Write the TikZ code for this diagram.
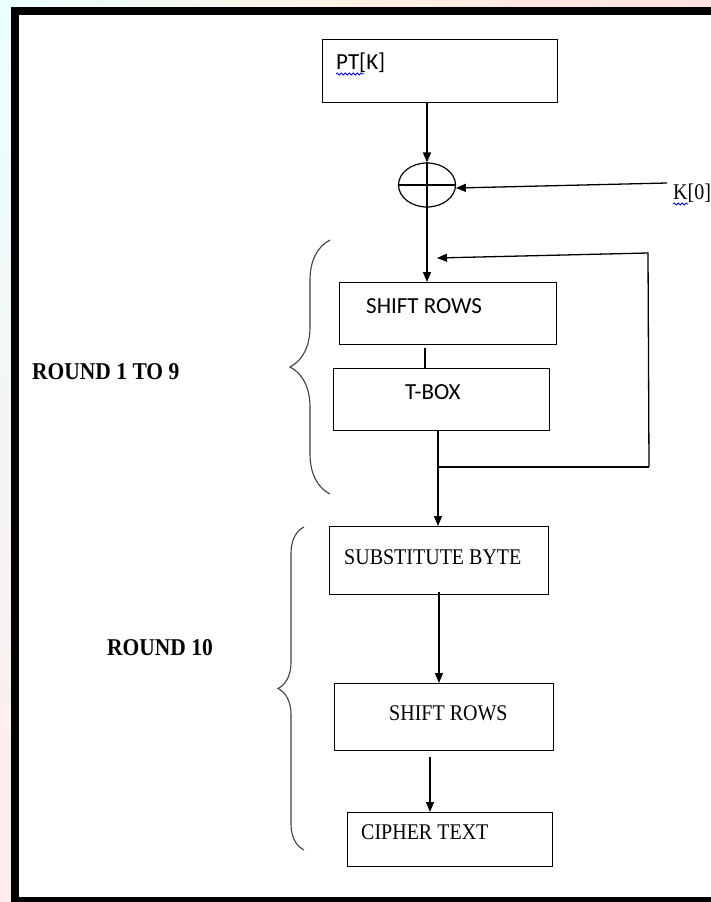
\documentclass[tikz,border=0pt]{standalone}
\usepackage{fontspec}
\setmainfont{Liberation Serif}
\newfontfamily\calib{Carlito}
\usetikzlibrary{arrows.meta,shapes.geometric,decorations.pathreplacing,decorations.pathmorphing,calc}
\newcommand{\tallsf}[1]{\scalebox{1}[1.12]{#1}}
\begin{document}
\begin{tikzpicture}[x=1pt,y=-1pt,
 box/.style={draw, line width=1.2pt, rectangle, inner sep=0pt, anchor=north west},
 arr/.style={line width=1.3pt, -{Triangle[length=10pt,width=8pt]}},
 ln/.style={line width=1.3pt},
 sanstext/.style={font=\calib\fontsize{23}{27}\selectfont, inner sep=0pt, anchor=west},
 seriftext/.style={font=\fontsize{20}{24}\selectfont, inner sep=0pt, anchor=west},
 roundlbl/.style={font=\bfseries\fontsize{21.5}{25}\selectfont, inner sep=0pt, anchor=west},
 brc/.style={decorate, draw=black!75, line width=1.1pt},
 spell/.style={draw=blue, line width=0.8pt, decorate, decoration={snake, segment length=4pt, amplitude=1pt}}
]
\useasboundingbox (0,0) rectangle (711,902);
% background and frame
\shade[top color=cyan!8, bottom color=red!8] (0,0) rectangle (711,902);
\shade[left color=cyan!8, right color=red!12, middle color=orange!10] (0,0) rectangle (711,16);
\fill[white] (19,15) rectangle (711,897);
\fill[black] (11,7) rectangle (19,902);
\fill[black] (11,7) rectangle (711,15);
\fill[black] (11,897) rectangle (711,902);

% boxes
\node[box, minimum width=235pt, minimum height=63pt] (pt) at (322,39) {};
\node[box, minimum width=217pt, minimum height=62pt] (sr1) at (339,282) {};
\node[box, minimum width=216pt, minimum height=62pt] (tbox) at (333,368) {};
\node[box, minimum width=219pt, minimum height=68pt] (sub) at (329,526) {};
\node[box, minimum width=219pt, minimum height=67pt] (sr2) at (334,683) {};
\node[box, minimum width=205pt, minimum height=54pt] (ct) at (347,812) {};

% texts
\node[sanstext] (ptt) at (336,63) {PT[K]};
\node[sanstext] (sr1t) at (366,306) {SHIFT ROWS};
\node[sanstext] (tboxt) at (405,392) {T-BOX};
\node[seriftext] (subt) at (344,557) {\tallsf{SUBSTITUTE BYTE}};
\node[seriftext] (sr2t) at (389,713) {\tallsf{SHIFT ROWS}};
\node[seriftext] (ctt) at (361,832) {\tallsf{CIPHER TEXT}};
\node[seriftext] (k) at (673,193) {\tallsf{K[0]}};
\node[roundlbl] (r19) at (32,372) {\tallsf{ROUND 1 TO 9}};
\node[roundlbl] (r10) at (107,648) {\tallsf{ROUND 10}};

% spelling marks
\draw[spell] (336,74) -- (364,74);
\draw[spell] (673,204) -- (688,204);

% xor
\node[draw, ellipse, line width=1.2pt, minimum width=57pt, minimum height=44pt, inner sep=0pt] (xor) at (427,185) {};
\draw[ln] (xor.north) -- (xor.south);
\draw[ln] (xor.west) -- (xor.east);

% connectors
\draw[arr] (pt.south -| xor.north) -- (xor.north);
\coordinate (kst) at (667,183);
\draw[arr] (kst) -- (xor.-6);
\draw[arr] (xor.south) -- (xor.south |- sr1.north);

\coordinate (c1) at (425,0);
\draw[ln] ($(sr1.south -| c1)+(0,3)$) -- (tbox.north -| c1);

\coordinate (cx2) at (438,0);
\draw[arr] (tbox.south -| cx2) -- (sub.north -| cx2);

\coordinate (fb1) at (438,467);
\coordinate (fbr) at (649,467);
\coordinate (fbt) at (648,253);
\coordinate (fbe) at (437,258);
\draw[ln] (fb1) -- (fbr);
\draw[arr] (fbr) -- (fbt) -- (fbe);

\coordinate (cx3) at (439,0);
\draw[arr] ($(sub.south -| cx3)+(0,-3)$) -- (sr2.north -| cx3);

\coordinate (c4s) at (430,757);
\draw[arr] (c4s) -- (ct.north -| c4s);

% braces
\draw[brc, decoration={brace, amplitude=40pt, aspect=0.5}] (330,494) -- (330,240);
\draw[brc, decoration={brace, amplitude=26pt, aspect=0.5}] (304,850) -- (304,527);
\end{tikzpicture}
\end{document}
